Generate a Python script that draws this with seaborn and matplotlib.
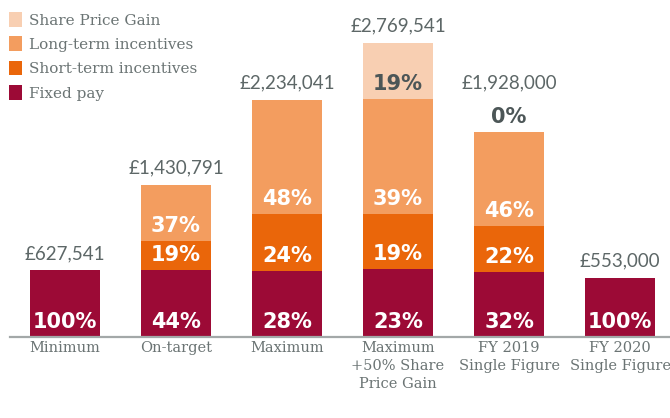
import numpy as np
import pandas as pd
import matplotlib
matplotlib.use("Agg")
import matplotlib.pyplot as plt
import seaborn as sns
from matplotlib.patches import Patch

# Remuneration scenarios and their components
categories = ["Minimum", "On-target", "Maximum",
              "Maximum\n+50% Share\nPrice Gain",
              "FY 2019\nSingle Figure", "FY 2020\nSingle Figure"]
totals = [627541, 1430791, 2234041, 2769541, 1928000, 553000]
fixed_pct = [100, 44, 28, 23, 32, 100]
short_pct = [np.nan, 19, 24, 19, 22, np.nan]
long_pct = [np.nan, 37, 48, 39, 46, np.nan]
share_pct = [np.nan, np.nan, np.nan, 19, 0, np.nan]

components = ["Fixed pay", "Short-term incentives", "Long-term incentives", "Share Price Gain"]
colors = ["#9c0a36", "#ea660a", "#f39d5f", "#f8cfb2"]
label_colors = ["white", "white", "white", "#4c5657"]

sns.set_theme(style="white")

text_grey = "#6b7474"
value_grey = "#5d6767"

fig = plt.figure(figsize=(6.70, 4.18), dpi=100)
ax = fig.add_axes([10 / 670, 81 / 418, 660 / 670, 337 / 418])

pcts = np.array([fixed_pct, short_pct, long_pct, share_pct], dtype=float)
amounts = np.nan_to_num(pcts) / 100.0 * np.array(totals, dtype=float)
tops = np.cumsum(amounts, axis=0)
bottoms = tops - amounts

# stacked bars: draw cumulative heights back to front
for k in range(len(components) - 1, -1, -1):
    df = pd.DataFrame({"category": categories, "value": tops[k]})
    sns.barplot(data=df, x="category", y="value", order=categories,
                color=colors[k], saturation=1, width=0.63, ax=ax,
                linewidth=0, edgecolor="none")

ax.set_xlim(-0.495, 5.45)
ax.set_ylim(0, max(totals) * 337 / 294)
ax.set_xlabel("")
ax.set_ylabel("")
ax.set_yticks([])

for s in ["top", "right", "left"]:
    ax.spines[s].set_visible(False)
ax.spines["bottom"].set_color("#a3a8a8")
ax.spines["bottom"].set_linewidth(1.6)

ax.tick_params(axis="x", length=0, pad=3)
for lbl in ax.get_xticklabels():
    lbl.set_fontfamily("DejaVu Serif")
    lbl.set_fontsize(10.5)
    lbl.set_color(text_grey)
    lbl.set_linespacing(1.35)

# percentage labels near the bottom of each segment
for k in range(len(components)):
    for i in range(len(categories)):
        p = pcts[k, i]
        if np.isnan(p):
            continue
        ax.annotate(f"{p:.0f}%", xy=(i, bottoms[k, i]), xytext=(0, 15),
                    textcoords="offset pixels", ha="center", va="center",
                    fontsize=15, fontweight="bold", family="DejaVu Sans",
                    color=label_colors[k])

# totals above each bar
for i, t in enumerate(totals):
    off = 17
    if not np.isnan(pcts[-1, i]) and amounts[-1, i] == 0:
        off += 32
    ax.annotate(f"£{t:,}", xy=(i, tops[-1, i]), xytext=(0, off),
                textcoords="offset pixels", ha="center", va="center",
                fontsize=13.5, family="Lato", fontweight="normal",
                color=value_grey)

handles = [Patch(facecolor=colors[k], edgecolor="none", label=components[k])
           for k in range(len(components) - 1, -1, -1)]
leg = fig.legend(handles=handles, loc="upper left", bbox_to_anchor=(-0.002, 0.995),
                 frameon=False, handlelength=0.9, handleheight=1.1,
                 handletextpad=0.45, labelspacing=0.58, borderpad=0.45,
                 borderaxespad=0.2,
                 prop={"family": "DejaVu Serif", "size": 11})
for txt in leg.get_texts():
    txt.set_color(text_grey)

fig.savefig("out.png", dpi=100)
